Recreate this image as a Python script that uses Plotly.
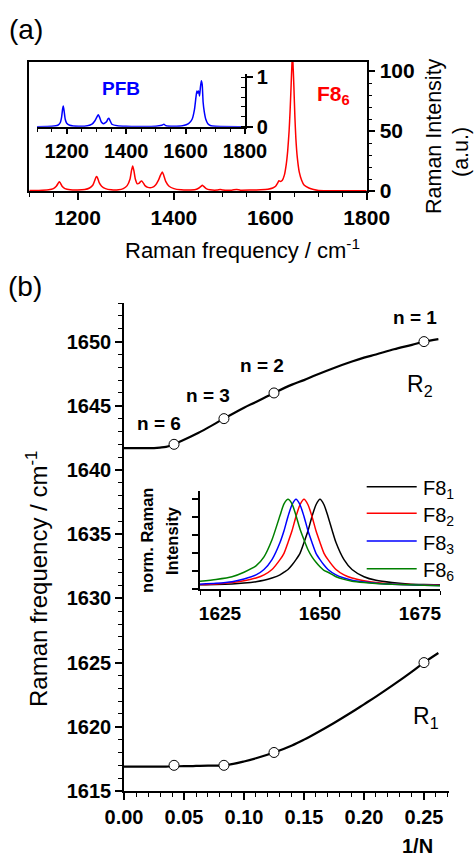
import plotly.graph_objects as go

W, H = 474, 856
FONT = "Liberation Sans, Arial, Helvetica, sans-serif"

# ---------------- data ----------------
# (a) Raman spectrum of F8_6 (red) : Raman shift / cm-1 and intensity (a.u.)
f86_x = [1100, 1120, 1140, 1150, 1156, 1160, 1162, 1164, 1168, 1174, 1185, 1200, 1215, 1225,
         1232, 1236, 1239, 1241, 1245, 1250, 1258, 1270, 1285, 1295, 1303, 1309, 1312, 1314.5,
         1317, 1320, 1324, 1328, 1331, 1333, 1336, 1340, 1346, 1355, 1362, 1368, 1372, 1376,
         1379, 1383, 1390, 1400, 1415, 1430, 1445, 1452, 1456, 1459, 1462, 1467, 1475, 1490,
         1496, 1502, 1520, 1530, 1538, 1560, 1580, 1595, 1605, 1611, 1615, 1618, 1621, 1625,
         1629, 1633, 1636, 1639, 1641, 1643, 1644.5, 1646, 1647.5, 1649, 1651, 1653, 1656, 1660,
         1665, 1670, 1680, 1690, 1700, 1720, 1760, 1800]
f86_y = [0.5, 0.5, 1.0, 2.0, 4.0, 6.5, 7.8, 7.0, 4.0, 2.0, 1.0, 0.8, 1.2, 2.5,
         5.0, 9.0, 12.0, 11.5, 7.0, 4.0, 2.0, 1.0, 1.0, 2.0, 4.5, 10.0, 17.0, 20.8,
         17.0, 10.0, 6.0, 6.5, 8.0, 8.3, 7.0, 4.5, 3.0, 3.0, 5.0, 9.0, 13.0, 15.8,
         13.0, 8.0, 4.0, 2.0, 1.0, 0.8, 1.2, 2.5, 3.8, 4.7, 3.8, 2.0, 1.0, 0.8,
         1.3, 0.8, 0.7, 1.3, 0.7, 0.8, 1.0, 1.5, 2.5, 4.0, 6.5, 8.5, 8.0, 9.0,
         13.0, 22.0, 33.0, 50.0, 66.0, 86.0, 102.0, 115.0, 102.0, 86.0, 62.0, 44.0, 28.0, 16.0,
         9.0, 5.0, 2.5, 1.2, 0.5, 0.3, 0.2, 0.2]

# (a) inset: PFB spectrum (blue)
pfb_x = [1100, 1150, 1170, 1178, 1183, 1186, 1188.5, 1191, 1195, 1200, 1210, 1240, 1270, 1285,
         1295, 1302, 1306, 1310, 1316, 1324, 1334, 1339, 1342, 1346, 1352, 1370, 1400, 1500,
         1520, 1527, 1534, 1560, 1590, 1610, 1622, 1630, 1635, 1638, 1641, 1644, 1647, 1650,
         1653, 1656, 1659, 1663, 1668, 1675, 1685, 1700, 1800]
pfb_y = [0.0, 0.01, 0.03, 0.08, 0.2, 0.35, 0.42, 0.33, 0.15, 0.07, 0.03, 0.01, 0.02, 0.05,
         0.12, 0.2, 0.24, 0.2, 0.1, 0.06, 0.1, 0.16, 0.17, 0.12, 0.05, 0.02, 0.01, 0.01,
         0.03, 0.05, 0.02, 0.01, 0.02, 0.06, 0.15, 0.35, 0.6, 0.72, 0.68, 0.72, 0.62, 0.8,
         0.93, 0.85, 0.5, 0.3, 0.15, 0.06, 0.02, 0.01, 0.0]

# (b) measured peak positions versus 1/N
inv_n = [0.0417, 0.0833, 0.125, 0.25]
n_labels = ["n = 6", "n = 3", "n = 2", "n = 1"]
r2_freq = [1642, 1644, 1646, 1650]
r1_freq = [1617, 1617, 1618, 1625]

# (b) fitted curves
fit_x = [0.0, 0.01, 0.02, 0.03, 0.035, 0.04, 0.05, 0.06, 0.07, 0.0833, 0.10, 0.11, 0.125,
         0.14, 0.15, 0.16, 0.175, 0.19, 0.20, 0.21, 0.225, 0.24, 0.25, 0.262]
r2_fit = [1641.7, 1641.7, 1641.7, 1641.75, 1641.8, 1641.95, 1642.35, 1642.8, 1643.3, 1644.0,
          1644.85, 1645.3, 1646.0, 1646.65, 1647.0, 1647.4, 1647.95, 1648.45, 1648.75, 1649.0,
          1649.4, 1649.75, 1650.0, 1650.2]
r1_fit = [1616.9, 1616.9, 1616.9, 1616.9, 1616.9, 1616.92, 1616.93, 1616.95, 1616.97, 1617.0,
          1617.3, 1617.55, 1618.0, 1618.55, 1619.0, 1619.5, 1620.3, 1621.15, 1621.75, 1622.35,
          1623.3, 1624.3, 1625.0, 1625.75]

# (b) inset: normalised Raman spectra
norm_x = [1620, 1624, 1628, 1631, 1634, 1636, 1638, 1640, 1641, 1642, 1643, 1644, 1645, 1646,
          1647, 1648, 1649, 1650, 1651, 1652, 1654, 1656, 1658, 1661, 1664, 1668, 1672, 1676, 1680]
f8_1 = [0.05, 0.053, 0.06, 0.07, 0.085, 0.10, 0.125, 0.16, 0.19, 0.22, 0.27, 0.33, 0.40, 0.52,
        0.65, 0.81, 0.94, 1.0, 0.94, 0.81, 0.52, 0.33, 0.22, 0.14, 0.10, 0.075, 0.06, 0.053, 0.05]
f8_2 = [0.053, 0.06, 0.075, 0.095, 0.125, 0.16, 0.22, 0.33, 0.40, 0.52, 0.65, 0.81, 0.94, 1.0,
        0.94, 0.81, 0.65, 0.52, 0.40, 0.33, 0.22, 0.16, 0.125, 0.095, 0.075, 0.06, 0.053, 0.05, 0.045]
f8_3 = [0.057, 0.067, 0.085, 0.115, 0.16, 0.22, 0.33, 0.52, 0.65, 0.81, 0.94, 1.0, 0.94, 0.81,
        0.65, 0.52, 0.40, 0.33, 0.27, 0.22, 0.16, 0.125, 0.10, 0.08, 0.067, 0.057, 0.05, 0.045, 0.042]
f8_6 = [0.09, 0.11, 0.14, 0.19, 0.26, 0.36, 0.55, 0.82, 0.95, 1.0, 0.95, 0.82, 0.67, 0.55,
        0.44, 0.36, 0.30, 0.25, 0.21, 0.19, 0.14, 0.11, 0.09, 0.075, 0.065, 0.055, 0.05, 0.045, 0.04]
norm_names = ["F8<sub>1</sub>", "F8<sub>2</sub>", "F8<sub>3</sub>", "F8<sub>6</sub>"]
norm_colors = ["#000000", "#ff0000", "#0000ff", "#008000"]

# ---------------- helpers ----------------
def fx(px):
    return px / W


def fy(py):
    return 1 - py / H


def tf(size, bold=True):
    d = dict(family=FONT, size=size, color="black")
    if bold:
        d["weight"] = "bold"
    return d


fig = go.Figure()

fig.add_trace(go.Scatter(x=f86_x, y=f86_y, xaxis="x", yaxis="y", mode="lines",
                         line=dict(color="#ff0000", width=1.5, shape="spline", smoothing=0.5),
                         showlegend=False, hoverinfo="skip"))
fig.add_trace(go.Scatter(x=pfb_x, y=pfb_y, xaxis="x2", yaxis="y2", mode="lines",
                         line=dict(color="#0000ff", width=1.5, shape="spline", smoothing=0.4),
                         showlegend=False, hoverinfo="skip"))
fig.add_trace(go.Scatter(x=fit_x, y=r2_fit, xaxis="x3", yaxis="y3", mode="lines",
                         line=dict(color="black", width=2.2, shape="spline"),
                         showlegend=False, hoverinfo="skip"))
fig.add_trace(go.Scatter(x=fit_x, y=r1_fit, xaxis="x3", yaxis="y3", mode="lines",
                         line=dict(color="black", width=2.2, shape="spline"),
                         showlegend=False, hoverinfo="skip"))
for ys in (r2_freq, r1_freq):
    fig.add_trace(go.Scatter(x=inv_n, y=ys, xaxis="x3", yaxis="y3", mode="markers",
                             marker=dict(symbol="circle", size=10, color="white",
                                         line=dict(color="black", width=1)),
                             showlegend=False, hoverinfo="skip"))
for name, ys, col in zip(norm_names, [f8_1, f8_2, f8_3, f8_6], norm_colors):
    fig.add_trace(go.Scatter(x=norm_x, y=ys, xaxis="x4", yaxis="y4", mode="lines", name=name,
                             line=dict(color=col, width=1.5, shape="spline", smoothing=0.6),
                             showlegend=False, hoverinfo="skip"))

common = dict(showgrid=False, zeroline=False, showline=True, linecolor="black", linewidth=1.5,
              ticks="outside", tickcolor="black", tickwidth=1.5, fixedrange=True,
              automargin=False)


def minor(dt, ticks="outside", ln=4):
    return dict(dtick=dt, ticks=ticks, ticklen=ln, tickcolor="black", tickwidth=1.2, showgrid=False)


layout = dict(
    width=W, height=H, autosize=False,
    margin=dict(l=0, r=0, t=0, b=0, pad=0, autoexpand=False),
    paper_bgcolor="white", plot_bgcolor="rgba(0,0,0,0)",
    font=dict(family=FONT, color="black"),
    showlegend=False,
    # (a) main
    xaxis=dict(**common, domain=[fx(29.3), fx(366.7)], range=[1100, 1800], anchor="y",
               tick0=1200, dtick=200, ticklen=7, mirror=True, minor=minor(50),
               tickfont=tf(21)),
    xaxis5=dict(overlaying="x", side="top", anchor="y", range=[1100, 1800], showline=False,
                showgrid=False, zeroline=False, ticks="inside", ticklen=7, tickwidth=1.5,
                tickcolor="black", tick0=1200, dtick=200, showticklabels=False,
                minor=minor(50, "inside", 4), fixedrange=True, automargin=False),
    yaxis=dict(**common, domain=[fy(191), fy(62)], range=[0, 107.5], anchor="x", side="right",
               dtick=50, ticklen=7, mirror=True, minor=minor(10), tickfont=tf(21)),
    # (a) inset
    xaxis2=dict(**common, domain=[fx(37), fx(245)], range=[1100, 1800], anchor="y2",
                tick0=1200, dtick=200, ticklen=6, minor=minor(50), tickfont=tf(20)),
    yaxis2=dict(**common, domain=[fy(126.7), fy(74.3)], range=[0, 1.06], anchor="x2",
                side="right", dtick=1, ticklen=6, minor=minor(0.2, "inside", 4),
                tickfont=tf(20)),
    # (b) main
    xaxis3=dict(**common, domain=[fx(124), fx(449.3)], range=[0, 0.2711], anchor="y3",
                dtick=0.05, tickformat=".2f", ticklen=7, minor=minor(0.01),
                tickfont=tf(20)),
    yaxis3=dict(**common, domain=[fy(791), fy(302.7)], range=[1615, 1653.03], anchor="x3",
                dtick=5, tick0=1615, ticklen=7, minor=minor(1), tickfont=tf(20)),
    # (b) inset
    xaxis4=dict(**common, domain=[fx(200), fx(440)], range=[1620, 1680], anchor="y4",
                tick0=1625, dtick=25, ticklen=6, minor=minor(5), tickfont=tf(19)),
    yaxis4=dict(**common, domain=[fy(589.3), fy(490.7)], range=[0, 1.096], anchor="x4",
                dtick=0.2, ticklen=6, showticklabels=False),
)
fig.update_layout(**layout)


def ann(text, x, y, size, bold=False, color="black", angle=0, xanchor="center", yanchor="middle"):
    fig.add_annotation(text=text, xref="paper", yref="paper", x=fx(x), y=fy(y),
                       xanchor=xanchor, yanchor=yanchor, showarrow=False, textangle=angle,
                       font=dict(family=FONT, size=size, color=color,
                                 weight="bold" if bold else "normal"))


ann("(a)", 26, 30, 28)
ann("(b)", 25, 286, 28)
ann("PFB", 121, 88, 19, bold=True, color="#0000ff")
ann("F8<sub>6</sub>", 315, 95, 21, bold=True, color="#ff0000", xanchor="left")
ann("Raman frequency / cm<sup>-1</sup>", 243, 249, 22)
ann("Raman Intensity", 434, 136, 21.5, angle=-90)
ann("(a.u.)", 461, 152, 21.5, angle=-90)
ann("Raman frequency / cm<sup>-1</sup>", 37, 579, 24, angle=-90)
ann("1/N", 417, 846, 20, bold=True)
ann("R<sub>2</sub>", 405, 385, 23, xanchor="left")
ann("R<sub>1</sub>", 411, 717, 23, xanchor="left")
ann("norm. Raman", 147, 541, 16.5, bold=True, angle=-90)
ann("Intensity", 172, 541, 16.5, bold=True, angle=-90)

# legend key for the inset of (b)
legend_rows = [486.7, 513.3, 541.0, 568.7]
for name, col, yy in zip(norm_names, norm_colors, legend_rows):
    fig.add_shape(type="line", xref="paper", yref="paper", x0=fx(366.7), x1=fx(416.7),
                  y0=fy(yy), y1=fy(yy), line=dict(color=col, width=1.5))
    ann(name, 421, yy + 3, 20, xanchor="left")

shifts = [(-15, 21), (-16, 23), (-12, 27), (-9, 24)]
for xv, yv, lab, (dx, dy) in zip(inv_n, r2_freq, n_labels, shifts):
    fig.add_annotation(text=lab, x=xv, y=yv, xref="x3", yref="y3", showarrow=False,
                       xshift=dx, yshift=dy, font=tf(19))

fig.write_html("out.html")
